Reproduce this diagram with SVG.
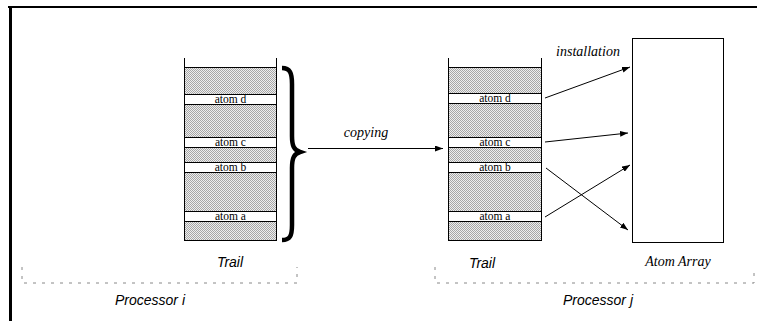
<svg xmlns="http://www.w3.org/2000/svg" width="757" height="321" viewBox="0 0 757 321">
<style>
.col{stroke:#000;stroke-width:1;fill:none}
.band{fill:#fff;stroke:#000;stroke-width:1}
.atom{font-family:"Liberation Serif","Times New Roman",serif;font-size:11.5px;text-anchor:middle}
.lbl{font-family:"Liberation Sans",Arial,sans-serif;font-style:italic;font-size:14px;text-anchor:middle}
.ser{font-family:"Liberation Serif","Times New Roman",serif;font-style:italic;font-size:14px;text-anchor:middle}
.con{stroke:#000;stroke-width:1;fill:none;marker-end:url(#ah)}
.dot{stroke:#888;stroke-width:1;fill:none;stroke-dasharray:3,6}
</style>
<defs>
<pattern id="st" width="2" height="2" patternUnits="userSpaceOnUse">
<rect width="2" height="2" fill="#eeeeee"/>
<rect width="1" height="1" fill="#a6a6a6"/>
<rect x="1" y="1" width="1" height="1" fill="#a6a6a6"/>
</pattern>
<marker id="ah" markerWidth="8" markerHeight="6" refX="8" refY="3" orient="auto" markerUnits="userSpaceOnUse">
<path d="M0,0 L8,3 L0,6 Z" fill="#000"/>
</marker>
</defs>
<rect width="757" height="321" fill="#fff"/>
<g id="frame">
<line x1="8" y1="7" x2="757" y2="7" stroke="#000" stroke-width="2"/>
<line x1="10.5" y1="6" x2="10.5" y2="321" stroke="#000" stroke-width="3"/>
</g>
<g id="trail-i">
<rect x="184" y="67" width="92" height="173" fill="url(#st)"/>
<line class="col" x1="184.5" y1="58" x2="184.5" y2="240"/>
<line class="col" x1="276.5" y1="58" x2="276.5" y2="240"/>
<line class="col" x1="184" y1="67.5" x2="277" y2="67.5"/>
<line class="col" x1="184" y1="240.5" x2="277" y2="240.5"/>
<rect class="band" x="184.5" y="94.5" width="92" height="10"/>
<text class="atom" x="230.5" y="103">atom d</text>
<rect class="band" x="184.5" y="137.5" width="92" height="10"/>
<text class="atom" x="230.5" y="146">atom c</text>
<rect class="band" x="184.5" y="162.5" width="92" height="10"/>
<text class="atom" x="230.5" y="171">atom b</text>
<rect class="band" x="184.5" y="211.5" width="92" height="10"/>
<text class="atom" x="230.5" y="220">atom a</text>
<text class="lbl" x="230" y="267">Trail</text>
</g>
<g id="brace">
<path d="M282,68 C290,68 292,73 292,84 L292,136 C292,146 294,150 300,152 C294,154 292,158 292,168 L292,225 C292,236 290,240 282,240" fill="none" stroke="#000" stroke-width="4.5"/>
</g>
<g id="trail-j">
<rect x="448" y="67" width="93" height="173" fill="url(#st)"/>
<line class="col" x1="448.5" y1="58" x2="448.5" y2="240"/>
<line class="col" x1="541.5" y1="58" x2="541.5" y2="240"/>
<line class="col" x1="448" y1="67.5" x2="542" y2="67.5"/>
<line class="col" x1="448" y1="240.5" x2="542" y2="240.5"/>
<rect class="band" x="448.5" y="93.5" width="93" height="10"/>
<text class="atom" x="495" y="102">atom d</text>
<rect class="band" x="448.5" y="137.5" width="93" height="10"/>
<text class="atom" x="495" y="146">atom c</text>
<rect class="band" x="448.5" y="162.5" width="93" height="10"/>
<text class="atom" x="495" y="171">atom b</text>
<rect class="band" x="448.5" y="211.5" width="93" height="10"/>
<text class="atom" x="495" y="220">atom a</text>
<text class="lbl" x="482" y="268">Trail</text>
</g>
<g id="atom-array">
<rect x="632.5" y="38.5" width="91" height="204" fill="#fff" stroke="#000" stroke-width="1"/>
<text class="ser" x="678" y="266" font-size="13">Atom Array</text>
</g>
<g id="processor-i">
<path class="dot" d="M22,267 L22,283 L297,283 L297,267"/>
<text class="lbl" x="150" y="305">Processor i</text>
</g>
<g id="processor-j">
<path class="dot" d="M435,267 L435,283 L754,283 L754,267"/>
<text class="lbl" x="598" y="305">Processor j</text>
</g>
<g id="connectors">
<line class="con" x1="308" y1="148.5" x2="443" y2="148.5"/>
<text class="ser" x="366" y="137">copying</text>
<line class="con" x1="545" y1="98" x2="630" y2="67"/>
<line class="con" x1="545" y1="142" x2="628" y2="133"/>
<line class="con" x1="546" y1="168" x2="628" y2="230"/>
<line class="con" x1="545" y1="217" x2="630" y2="165"/>
<text class="ser" x="588" y="56">installation</text>
</g>
</svg>
